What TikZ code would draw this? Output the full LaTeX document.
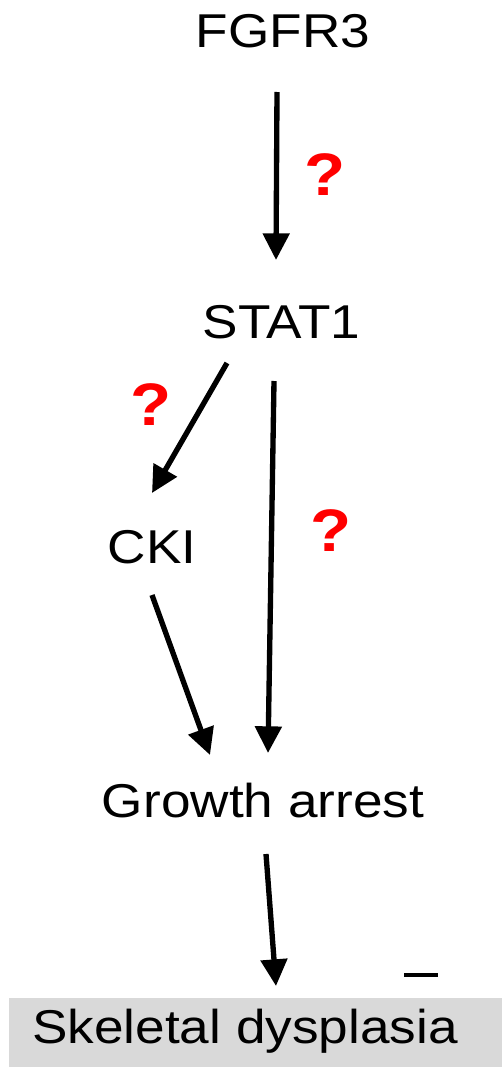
\documentclass[tikz,border=0pt]{standalone}
\usepackage{fontspec}
\setmainfont{Liberation Sans}[FakeStretch=1.12]
\usetikzlibrary{arrows.meta,calc}
\definecolor{boxgray}{RGB}{217,217,217}
\definecolor{qred}{RGB}{255,0,0}
\begin{document}
\begin{tikzpicture}[x=0.75pt,y=-0.75pt,
  lbl/.style={inner sep=0pt,anchor=base,font=\fontsize{35.6pt}{40pt}\selectfont},
  qm/.style={inner sep=0pt,text=qred,font=\bfseries\fontsize{45pt}{50pt}\selectfont},
  arr/.style={line width=4pt,-{Triangle[width=19.5pt,length=20pt]}}]
\useasboundingbox (0,0) rectangle (502,1067);
\fill[boxgray] (9,998) rectangle (502,1067);
\node[lbl] (fg) at (283,47) {FGFR3};
\node[lbl] (st) at (281.5,338) {STAT1};
\node[lbl] (ck) at (152,563) {CKI};
\node[lbl] (ga) at (263,817) {Growth arrest};
\node[lbl] (sd) at (245,1043) {Skeletal dysplasia};
\node[qm] (q1) at (325,175) {?};
\node[qm] (q2) at (151,405) {?};
\node[qm] (q3) at (331,531) {?};
\draw[arr] ($(fg.base)+(-6,45)$) -- ($(st.base)+(-5.5,-78)$);
\draw[arr] ($(st.base)+(-54.5,25)$) -- ($(ck.base)+(0,-70)$);
\draw[arr] ($(st.base)+(-7.5,43)$) -- ($(ga.base)+(5,-64)$);
\draw[arr] ($(ck.base)+(0,32)$) -- ($(ga.base)+(-53,-62)$);
\draw[arr] ($(ga.base)+(3,37)$) -- ($(sd.base)+(31,-57)$);
\draw[line width=2.4pt] (404,975) -- (438,975);
\end{tikzpicture}
\end{document}
